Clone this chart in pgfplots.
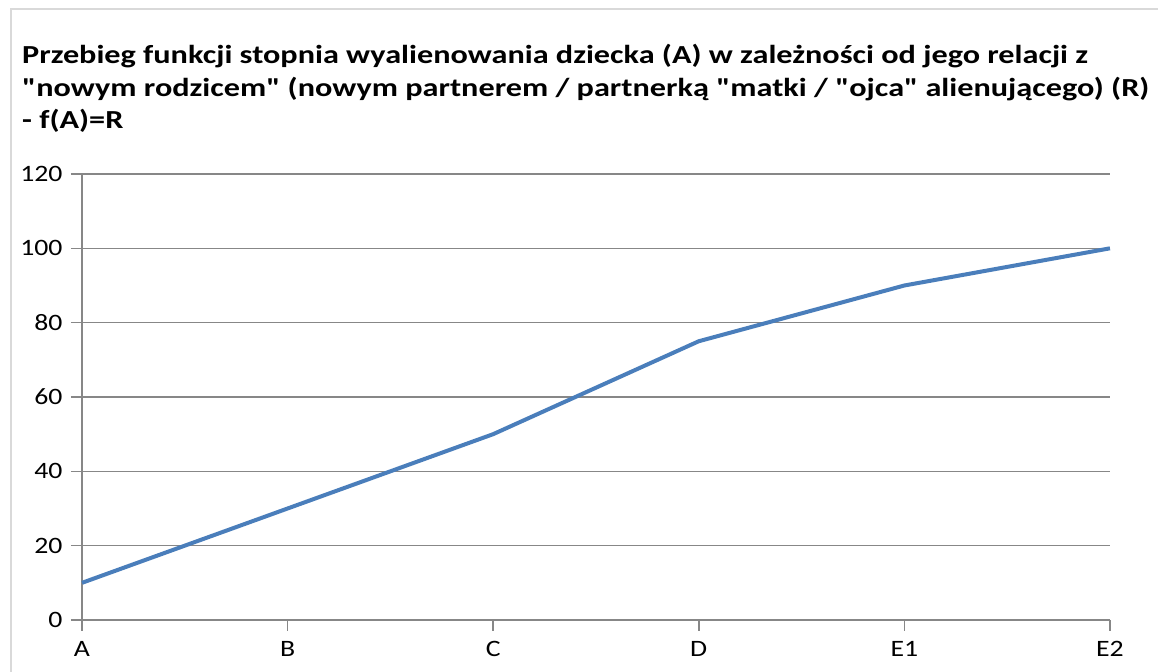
\documentclass[border=0pt]{standalone}
\usepackage{fontspec}
\setmainfont{Carlito}[FakeStretch=1.18, Ligatures=TeXOff]
\newfontfamily\titlefont{Carlito}[FakeStretch=1.24, Ligatures=TeXOff]
\usepackage{pgfplots}
\pgfplotsset{compat=1.18}
\definecolor{lineblue}{HTML}{4A7EBB}
\definecolor{axgray}{HTML}{878787}
\definecolor{bordergray}{HTML}{D9D9D9}
\begin{document}
\begin{tikzpicture}
\path[use as bounding box] (0,0) rectangle (1158bp,672bp);
\draw[bordergray, line width=1.5bp] (11bp,-10bp) -- (11bp,663bp) -- (1170bp,663bp);
\node[anchor=base west, align=left, font=\titlefont\fontsize{26bp}{32.5bp}\selectfont\bfseries, inner sep=0pt] at (22bp,543bp)
 {Przebieg funkcji stopnia wyalienowania dziecka (A) w zależności od jego relacji z\\
 "nowym rodzicem" (nowym partnerem / partnerką "matki / "ojca" alienującego) (R)\\
 - f(A)=R};
\begin{axis}[
  at={(82bp,52bp)}, anchor=south west,
  scale only axis, width=1028bp, height=446bp,
  xmin=0, xmax=5, ymin=0, ymax=120,
  xtick={0,1,2,3,4,5}, xticklabels={A,B,C,D,E1,E2},
  ytick={0,20,40,60,80,100,120},
  axis x line*=bottom, axis y line*=left,
  axis line style={-, axgray, line width=1.5bp},
  ymajorgrids, major grid style={axgray, line width=1.5bp},
  tick align=outside, major tick length=11bp,
  tick style={axgray, line width=1.5bp},
  ticklabel style={font=\fontsize{23.5bp}{28bp}\selectfont},
  xticklabel style={yshift=-7bp},
  yticklabel style={xshift=-5bp},
  /pgf/number format/assume math mode=true,
  clip=false,
]
\addplot[lineblue, line width=4bp, mark=none] coordinates {(0,10) (1,30) (2,50) (3,75) (4,90) (5,100)};
\end{axis}
\end{tikzpicture}
\end{document}
